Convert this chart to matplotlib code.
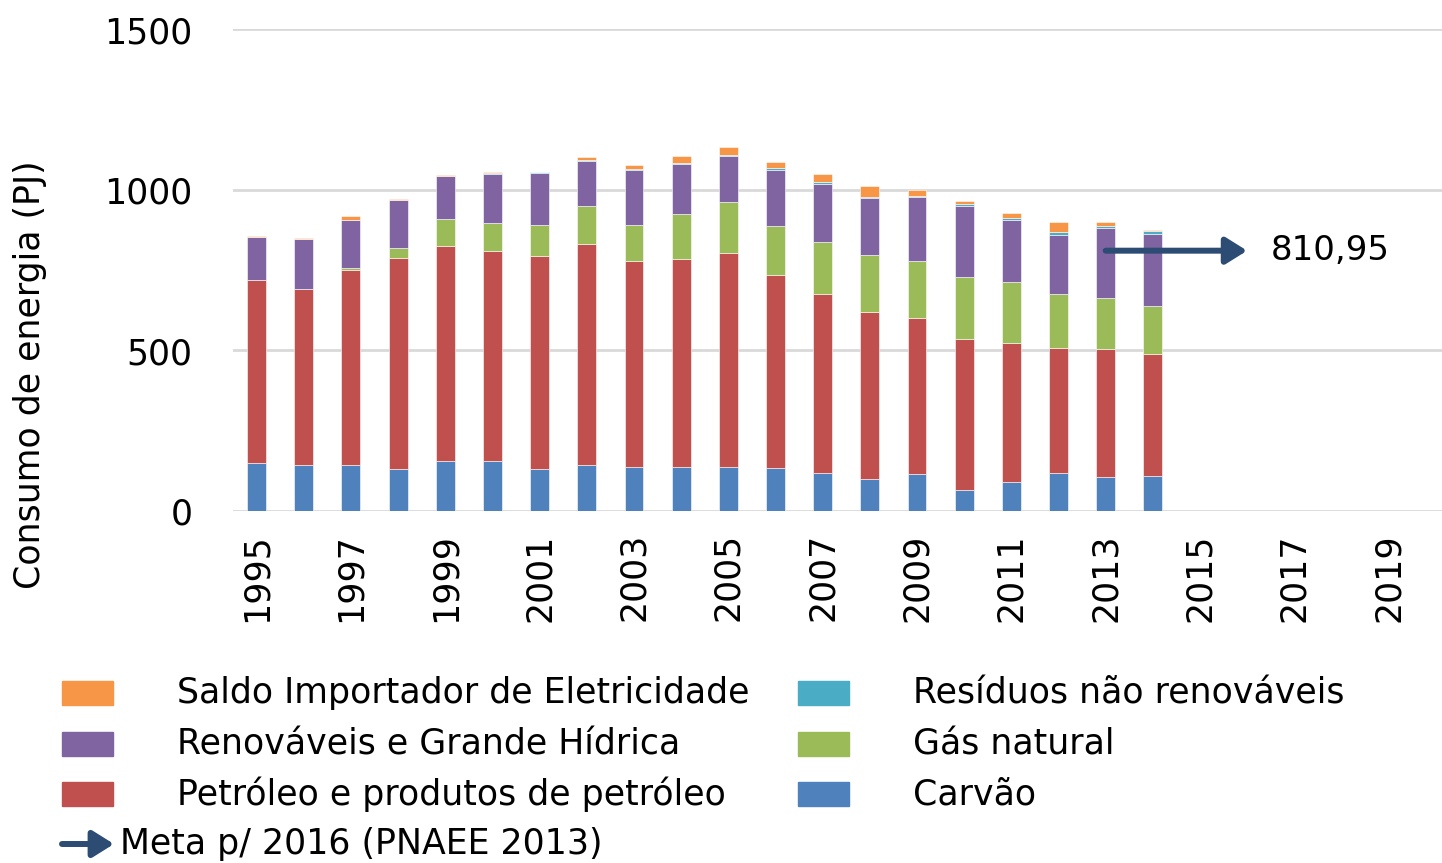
#!/usr/bin/env python3
"""
Stacked bars of primary energy consumption by source (PJ), 1995-2014,
with the 2016 PNAEE target arrow.
"""
import matplotlib
matplotlib.use("Agg")
import matplotlib.pyplot as plt
from matplotlib.patches import Rectangle, FancyArrowPatch

plt.rcParams["font.family"] = ["DejaVu Sans"]

years = list(range(1995, 2015))
carvao     = [148, 142, 144, 132, 155, 157, 131, 144, 136, 138, 136, 135, 117, 101, 116, 66, 89, 119, 107, 109]
petroleo   = [573, 551, 607, 656, 671, 653, 664, 688, 643, 647, 668, 600, 559, 519, 485, 471, 434, 389, 398, 381]
gas        = [0, 0, 5, 30, 83, 86, 95, 117, 111, 140, 159, 153, 162, 177, 177, 191, 190, 167, 159, 148]
renovaveis = [133, 155, 151, 151, 135, 154, 163, 141, 172, 155, 142, 174, 181, 178, 200, 223, 195, 185, 219, 226]
residuos   = [0, 0, 0, 0, 1, 3, 3, 5, 4, 5, 5, 5, 5, 4, 4, 6, 6, 9, 6, 7]
saldo      = [4, 4, 11, 2, 1, 3, 0, 8, 11, 22, 25, 20, 27, 34, 19, 10, 13, 30, 11, 4]

axis_years = list(range(1995, 2021))
tick_years = list(range(1995, 2020, 2))

meta_value = 810.95
meta_from, meta_to = 2013, 2016

series = [
    ("Carvão", carvao, "#4F81BD"),
    ("Petróleo e produtos de petróleo", petroleo, "#C0504D"),
    ("Gás natural", gas, "#9BBB59"),
    ("Renováveis e Grande Hídrica", renovaveis, "#8064A2"),
    ("Resíduos não renováveis", residuos, "#4BACC6"),
    ("Saldo Importador de Eletricidade", saldo, "#F79646"),
]
colors = {name: c for name, _, c in series}
arrow_color = "#2C4C74"
fs = 25

W, H = 1442, 863
fig = plt.figure(figsize=(W / 100, H / 100), dpi=100)
ax = fig.add_axes([233 / W, (H - 511) / H, 26 * 47.17 / W, (511 - 29.5) / H])

bottom = [0] * len(years)
for name, vals, c in series:
    ax.bar(years, vals, width=0.4, bottom=bottom, color=c, edgecolor="white",
           linewidth=0.4, zorder=3)
    bottom = [b + v for b, v in zip(bottom, vals)]

ax.set_xlim(axis_years[0] - 0.5, axis_years[-1] + 0.5)
ax.set_ylim(0, 1500)
ax.set_yticks([0, 500, 1000, 1500])
ax.set_xticks(tick_years)
ax.set_xticklabels([str(y) for y in tick_years], rotation=90)
ax.tick_params(axis="both", length=0, labelsize=fs)
ax.tick_params(axis="y", pad=29)
ax.tick_params(axis="x", pad=16)
ax.grid(axis="y", color="#D9D9D9", lw=2, zorder=0)
for s in ax.spines.values():
    s.set_visible(False)

# target arrow
ax.annotate("", xy=(meta_to, meta_value), xytext=(meta_from, meta_value),
            arrowprops=dict(arrowstyle="-|>,head_length=0.8,head_width=0.5",
                            mutation_scale=16, lw=4.3, color=arrow_color,
                            shrinkA=0, shrinkB=0, capstyle="round"),
            zorder=5)
ax.text(meta_to + 0.5, meta_value, f"{meta_value:.2f}".replace(".", ","),
        fontsize=24.5, va="center", ha="left")

fig.text(30 / W, 1 - 375 / H, "Consumo de energia (PJ)", rotation=90,
         fontsize=fs, ha="center", va="center")

# legend drawn by hand
legend_cols = [
    (62, 177, ["Saldo Importador de Eletricidade", "Renováveis e Grande Hídrica",
               "Petróleo e produtos de petróleo"]),
    (798, 913, ["Resíduos não renováveis", "Gás natural", "Carvão"]),
]
row_y = [693, 744, 794]
for px, tx, names in legend_cols:
    for name, y in zip(names, row_y):
        fig.patches.append(Rectangle((px / W, 1 - (y + 12) / H), 51 / W, 24 / H,
                                     transform=fig.transFigure, color=colors[name]))
        fig.text(tx / W, 1 - y / H, name, fontsize=fs, va="center", ha="left")

fig.patches.append(FancyArrowPatch((62 / W, 1 - 844 / H), (114 / W, 1 - 844 / H),
                                   transform=fig.transFigure,
                                   arrowstyle="-|>,head_length=0.8,head_width=0.5",
                                   mutation_scale=16, lw=4.3, color=arrow_color,
                                   shrinkA=0, shrinkB=0, capstyle="round"))
fig.text(120 / W, 1 - 844 / H, "Meta p/ 2016 (PNAEE 2013)", fontsize=fs,
         va="center", ha="left")

fig.savefig("out.png", dpi=100)
